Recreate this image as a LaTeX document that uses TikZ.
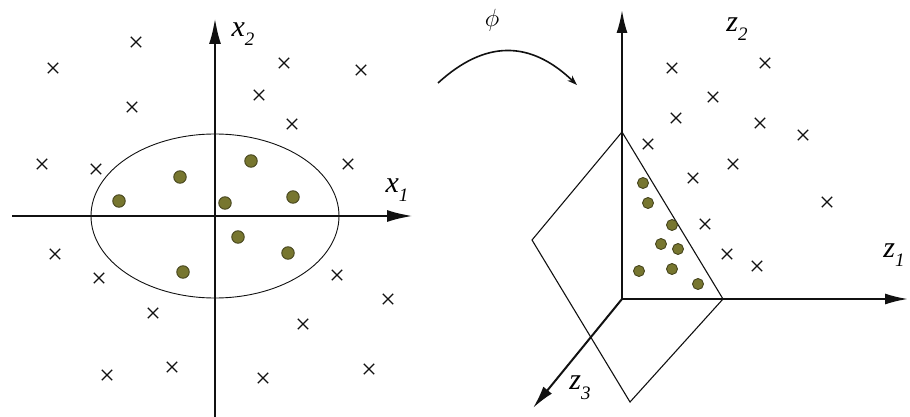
\documentclass[tikz,border=0pt]{standalone}
\usepackage{fontspec}
\setmainfont{Liberation Serif}
\usepackage{tikz}
\usetikzlibrary{arrows.meta, shapes.misc}
\definecolor{dotfill}{HTML}{77762F}
\definecolor{dotedge}{HTML}{46451E}
\definecolor{inkline}{HTML}{111111}
\newcommand{\axlbl}[2]{\textit{#1}\raisebox{-0.32em}{\fontsize{19}{19}\selectfont\textit{#2}}}

\begin{document}
\begin{tikzpicture}[x=1pt, y=-1pt,
      axl/.style={draw=inkline, line width=2.6pt, -{Latex[length=26pt, width=12pt]}},
      axr/.style={draw=inkline, line width=2pt, -{Latex[length=23pt, width=11pt]}},
      cr/.style={cross out, draw=inkline, line width=1.3pt, minimum size=9pt, inner sep=0pt},
      pt/.style={circle, draw=dotedge, fill=dotfill, line width=0.9pt, minimum size=12.5pt, inner sep=0pt},
      pts/.style={pt, minimum size=11pt},
      lbl/.style={font=\fontsize{30}{30}\selectfont, inner sep=0pt}]
    \useasboundingbox (0,0) rectangle (910,417);
    % input space
    \coordinate (o1) at (215,216);
    \coordinate (x1a) at (12,216);
    \coordinate (x1b) at (413,216);
    \coordinate (x2a) at (215,417);
    \coordinate (x2b) at (215,18);
    \draw[inkline, line width=0.9pt] (o1) ellipse [x radius=124pt, y radius=82pt];
    \draw[axl] (x1a) -- (x1b);
    \draw[axl] (x2a) -- (x2b);
    \node[lbl] (lx1) at (397,190) {\axlbl{x}{1}};
    \node[lbl] (lx2) at (243,34) {\axlbl{x}{2}};
    \foreach \x/\y [count=\i] in {136/42, 53/68, 284/63, 361/70, 259/95, 132/107, 292/124,
        42/164, 96/169, 348/164, 55/254, 99/278, 337/275, 388/299, 153/313, 303/324,
        107/375, 172/367, 263/378, 369/369}
      \node[cr] (ca\i) at (\x,\y) {};
    \foreach \x/\y [count=\i] in {119/201, 180/177, 251/161, 225/203, 293/197,
        238/237, 288/253, 183/272}
      \node[pt] (da\i) at (\x,\y) {};
    % mapping
    \coordinate (ms) at (438,83);
    \coordinate (me) at (577,85);
    \draw[inkline, line width=1.6pt, -{Stealth[length=10pt, width=7pt]}]
      (ms) .. controls (485,40) and (530,40) .. (me);
    \node[font=\fontsize{26}{26}\selectfont, inner sep=0pt] (phi) at (492,20) {$\phi$};
    % feature space
    \coordinate (o2) at (622,299);
    \coordinate (z1b) at (908,299);
    \coordinate (z2b) at (622,10);
    \coordinate (z3b) at (533,408);
    \coordinate (pt1) at (622,132);
    \coordinate (pl) at (532,240);
    \coordinate (pb) at (630,402);
    \coordinate (pr) at (723,299);
    \draw[inkline, line width=1.1pt] (pt1) -- (pl) -- (pb) -- (pr) -- cycle;
    \draw[axr] (o2) -- (z1b);
    \draw[axr] (o2) -- (z2b);
    \draw[axr] (o2) -- (z3b);
    \node[lbl] (lz1) at (894,255) {\axlbl{z}{1}};
    \node[lbl] (lz2) at (737,29) {\axlbl{z}{2}};
    \node[lbl] (lz3) at (580,388) {\axlbl{z}{3}};
    \foreach \x/\y [count=\i] in {672/68, 765/63, 713/97, 676/118, 760/123, 803/135,
        648/144, 733/164, 693/178, 827/202, 705/224, 727/254, 757/266}
      \node[cr] (cb\i) at (\x,\y) {};
    \foreach \x/\y [count=\i] in {643/183, 648/203, 672/225, 661/244, 678/249,
        639/271, 672/269, 698/284}
      \node[pts] (db\i) at (\x,\y) {};
  \end{tikzpicture}
\end{document}
